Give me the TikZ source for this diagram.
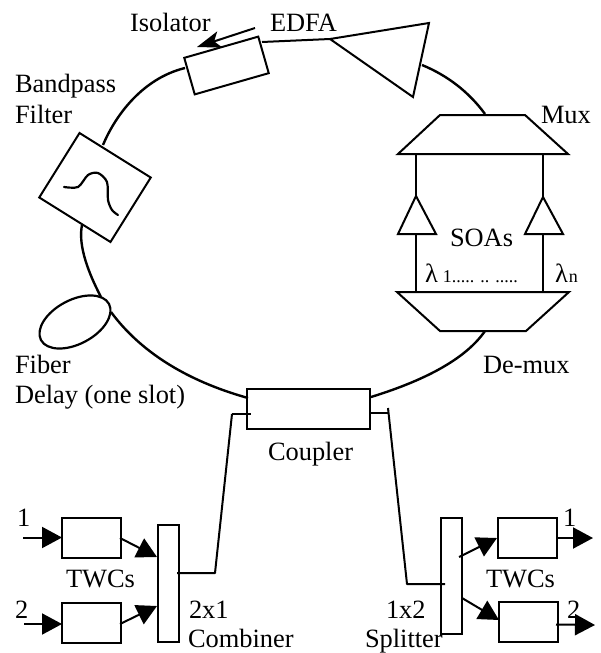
\documentclass[tikz,border=0pt]{standalone}
\usepackage{fontspec}
\setmainfont{Liberation Serif}
\usetikzlibrary{arrows.meta,shapes.geometric}
\tikzset{
  every node/.style={inner sep=0pt,outer sep=0pt},
  part/.style={draw,line width=2pt,fill=white},
  fibre/.style={line width=2.4pt,line join=round},
  wire/.style={line width=2pt,line join=round},
  bigtip/.style={wire,-{Triangle[length=20pt,width=21pt]}},
  lab/.style={anchor=base west,font=\fontsize{26.4}{31}\selectfont,align=left},
  sub/.style={font=\fontsize{18}{20}\selectfont,anchor=base west},
  twc/.style={part,minimum width=59pt,minimum height=40pt},
}
\begin{document}
\begin{tikzpicture}[x=1pt,y=-1pt]
\useasboundingbox (0,0) rectangle (601,653);
% free ends and joints
\coordinate (isoL) at (185,68);
\coordinate (isoR) at (262,42);
\coordinate (filtT) at (103,145);
\coordinate (filtB) at (82,225);
\coordinate (loopT) at (101,297);
\coordinate (loopB) at (111,312);
\coordinate (coupL) at (248,398);
\coordinate (coupR) at (371,397);
\coordinate (coupRs) at (370,413);
\coordinate (stubL) at (232,414);
\coordinate (stubLe) at (251,414);
\coordinate (stubR) at (388,413);
\coordinate (stubRt) at (388,408);
\coordinate (jointL) at (215,573);
\coordinate (jointR) at (407,584);
% EDFA
\coordinate (ea) at (330,39);
\coordinate (eb) at (429,23);
\coordinate (ec) at (413,97);
\coordinate (edfaIn) at (422,65);
% Mux / De-mux
\coordinate (ma) at (440,115);
\coordinate (mb) at (525,115);
\coordinate (mc) at (568,154);
\coordinate (md) at (398,154);
\coordinate (muxT) at (485,114);
\coordinate (da) at (397,292);
\coordinate (db) at (569,292);
\coordinate (dc) at (526,331);
\coordinate (dd) at (440,331);
\coordinate (dmxB) at (485,331);
% SOAs
\coordinate (sa1) at (416,196);
\coordinate (sa2) at (398,234);
\coordinate (sa3) at (436,234);
\coordinate (sb1) at (543,197);
\coordinate (sb2) at (525,234);
\coordinate (sb3) at (563,234);
\coordinate (mL) at (416,154);
\coordinate (mR) at (543,154);
\coordinate (dL) at (416,292);
\coordinate (dR) at (543,292);
\coordinate (saB) at (416,234);
\coordinate (sbB) at (543,234);
% parts
\node[part,minimum width=77pt,minimum height=38pt,rotate=16] (iso) at (226.5,65.5) {};
\node[part,minimum width=84pt,minimum height=76pt,rotate=-32] (filt) at (95,187.5) {};
\node[part,minimum width=123pt,minimum height=40pt] (coup) at (308.5,409) {};
\node[draw,line width=2.2pt,ellipse,minimum width=77pt,minimum height=44pt,rotate=28] (loop) at (75,322) {};
\draw[part,line join=miter] (ea) -- (eb) -- (ec) -- cycle;
\draw[part] (ma) -- (mb) -- (mc) -- (md) -- cycle;
\draw[part] (da) -- (db) -- (dc) -- (dd) -- cycle;
\draw[part] (sa1) -- (sa3) -- (sa2) -- cycle;
\draw[part] (sb1) -- (sb3) -- (sb2) -- cycle;
\node[part,minimum width=21pt,minimum height=117pt] (comb) at (168.5,583.5) {};
\node[part,minimum width=21pt,minimum height=116pt] (split) at (451.5,576) {};
\node[twc] (t1) at (91.5,538) {};
\node[twc] (t2) at (91.5,623) {};
\node[twc] (t3) at (527,538) {};
\node[twc] (t4) at (528.5,621.5) {};
% filter passband
\draw[line width=2.2pt,line cap=round] plot[smooth] coordinates {(64,187) (78,187) (88,175) (98,173) (107,182) (108,200) (112,210) (118,215)};
% ring
\draw[fibre] (isoL) .. controls (143,78.3) and (115.7,114.7) .. (filtT);
\draw[fibre] (filtB) .. controls (78.7,241.7) and (84.3,265) .. (loopT);
\draw[fibre] (loopB) .. controls (140,351.3) and (186,380.7) .. (coupL);
\draw[fibre] (dmxB) .. controls (467,357) and (429.3,379) .. (coupR);
\draw[fibre] (muxT) .. controls (468.7,91.7) and (447,75.2) .. (edfaIn);
\draw[wire] (isoR) -- (ea);
% SOA branches
\draw[wire] (mL) -- (sa1) (saB) -- (dL);
\draw[wire] (mR) -- (sb1) (sbB) -- (dR);
% isolator direction
\coordinate (isoA) at (255,28);
\coordinate (isoB) at (197,47);
\draw[wire,-{Stealth[length=24pt,width=17pt,inset=6pt]}] (isoA) -- (isoB);
% coupler to combiner and splitter
\coordinate (combOut) at (177,573);
\coordinate (splitIn) at (445,584);
\draw[wire] (stubL) -- (stubLe);
\draw[wire] (stubL) -- (jointL) -- (combOut);
\draw[wire] (coupRs) -- (stubR);
\draw[wire] (stubRt) -- (jointR) -- (splitIn);
% TWC arrows
\coordinate (in1) at (23,537.5);
\coordinate (in2) at (24,624);
\coordinate (out1) at (593,538);
\coordinate (out2) at (595,625);
\coordinate (c1) at (157,557);
\coordinate (c2) at (157,606);
\coordinate (s1) at (459,557);
\coordinate (s2) at (462,598);
\coordinate (t1o) at (120,538);
\coordinate (t2o) at (120,624);
\coordinate (t3i) at (497,538);
\coordinate (t4i) at (499,620);
\coordinate (t4o) at (556,624.5);
\draw[bigtip] (in1) -- (t1.west |- in1);
\draw[bigtip] (in2) -- (t2.west |- in2);
\draw[bigtip] (t1o) -- (c1);
\draw[bigtip] (t2o) -- (c2);
\draw[bigtip] (s1) -- (t3i);
\draw[bigtip] (s2) -- (t4i);
\draw[bigtip] (t3.east) -- (out1);
\draw[bigtip] (t4o) -- (out2);
% labels
\node[lab] (lIso) at (130,31) {Isolator};
\node[lab] (lEdfa) at (270,31) {EDFA};
\node[lab] (lBand) at (15,92) {Bandpass};
\node[lab] (lFilt) at (15,123) {Filter};
\node[lab] (lMux) at (541,123) {Mux};
\node[lab] (lSoa) at (450,246) {SOAs};
\node[lab] (lL1) at (425,282) {λ};
\node[sub,xshift=5pt] (lL1s) at (lL1.base east) {1..... .. .....};
\node[lab] (lLn) at (555,282) {λ};
\node[sub,xshift=1pt] (lLns) at (lLn.base east) {n};
\node[lab] (lDem) at (483,373) {De-mux};
\node[lab] (lFib) at (15,373) {Fiber};
\node[lab] (lDel) at (15,403) {Delay (one slot)};
\node[lab] (lCoup) at (268,460) {Coupler};
\node[lab] (lT1) at (66,587) {TWCs};
\node[lab] (lT2) at (486,587) {TWCs};
\node[lab] (lN1) at (17,526) {1};
\node[lab] (lN2) at (15,618) {2};
\node[lab] (lN3) at (563,526) {1};
\node[lab] (lN4) at (567,618) {2};
\node[lab] (l2x1) at (189,618) {2x1};
\node[lab] (lCom) at (188,647) {Combiner};
\node[lab] (l1x2) at (386,618) {1x2};
\node[lab] (lSpl) at (365,647) {Splitter};
\end{tikzpicture}
\end{document}
